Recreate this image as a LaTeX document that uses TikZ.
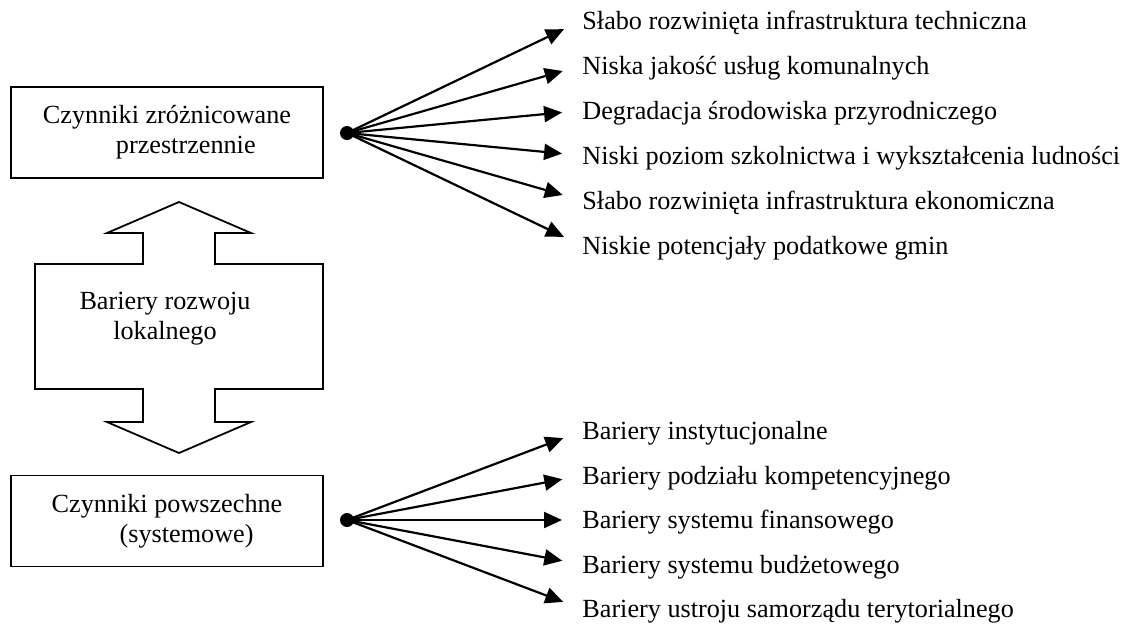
\documentclass[tikz,border=0pt]{standalone}
\usepackage{fontspec}
\setmainfont{Liberation Serif}
\usetikzlibrary{arrows.meta}
\begin{document}
\begin{tikzpicture}[x=0.5pt,y=-0.5pt,font=\fontsize{13.1pt}{15pt}\selectfont,
  box/.style={draw,line width=0.9pt,minimum width=156pt,minimum height=45.5pt,align=left,inner sep=0pt},
  item/.style={anchor=west,inner sep=0pt,text height=10pt,text depth=1.4pt},
  dot/.style={circle,fill,inner sep=0pt,minimum size=7pt},
  link/.style={line width=1.1pt,-{Triangle[length=9pt,width=8pt]},shorten >=10pt}]
\useasboundingbox (0,0) rectangle (1134,628);
% left column
\node[box] (zroz) at (167,132.5) {Czynniki zróżnicowane\\\hspace*{36.5pt}przestrzennie};
\node[box] (powsz) at (167,521) {Czynniki powszechne\\\hspace*{34pt}(systemowe)};
\draw[line width=0.9pt] (179,202) -- (251,233) -- (215,233) -- (215,264) -- (323,264) -- (323,389)
  -- (215,389) -- (215,422) -- (251,422) -- (179,453) -- (107,422) -- (143,422) -- (143,389)
  -- (35,389) -- (35,264) -- (143,264) -- (143,233) -- (107,233) -- cycle;
\node[align=center] (bariery) at (165,319) {Bariery rozwoju\\lokalnego};
% fans
\node[dot] (d1) at (347,133) {};
\node[dot] (d2) at (347,520) {};
\foreach \t [count=\i] in {Słabo rozwinięta infrastruktura techniczna, Niska jakość usług komunalnych,
  Degradacja środowiska przyrodniczego, Niski poziom szkolnictwa i wykształcenia ludności,
  Słabo rozwinięta infrastruktura ekonomiczna, Niskie potencjały podatkowe gmin}
{
  \node[item] (z\i) at (582,{133+(\i-3.5)*45}) {\t};
  \draw[link] (d1.center) -- (z\i.west);
}
\foreach \t [count=\i] in {Bariery instytucjonalne, Bariery podziału kompetencyjnego,
  Bariery systemu finansowego, Bariery systemu budżetowego,
  Bariery ustroju samorządu terytorialnego}
{
  \node[item] (p\i) at (582,{520+(\i-3)*44.5}) {\t};
  \draw[link] (d2.center) -- (p\i.west);
}
\end{tikzpicture}
\end{document}
